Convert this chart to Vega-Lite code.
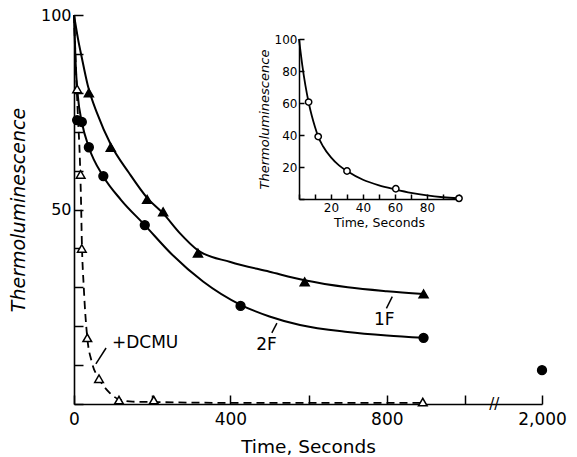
{
  "$schema": "https://vega.github.io/schema/vega-lite/v6.json",
  "width": 468,
  "height": 389,
  "autosize": {"type": "none"},
  "padding": {"left": 74, "top": 15, "right": 35, "bottom": 53},
  "background": "white",
  "config": {
    "view": {"stroke": null},
    "font": "DejaVu Sans",
    "axis": {"domainColor": "black", "tickColor": "black", "labelColor": "black", "titleColor": "black", "grid": false, "domainWidth": 1.6, "tickWidth": 1.5, "titleFontWeight": "normal", "labelOverlap": false, "labelBound": false, "labelFlush": false}
  },
  "datasets": {
    "curves": [
      {"s": "1F", "t": 0, "v": 100}, {"s": "1F", "t": 10, "v": 94}, {"s": "1F", "t": 20, "v": 89}, {"s": "1F", "t": 35, "v": 82}, {"s": "1F", "t": 60, "v": 74.5}, {"s": "1F", "t": 95, "v": 66.5}, {"s": "1F", "t": 140, "v": 59.5}, {"s": "1F", "t": 187, "v": 53}, {"s": "1F", "t": 228, "v": 49}, {"s": "1F", "t": 270, "v": 44}, {"s": "1F", "t": 317, "v": 39.5}, {"s": "1F", "t": 400, "v": 36.5}, {"s": "1F", "t": 500, "v": 34}, {"s": "1F", "t": 590, "v": 31.8}, {"s": "1F", "t": 700, "v": 30}, {"s": "1F", "t": 800, "v": 29}, {"s": "1F", "t": 894, "v": 28.3},
      {"s": "2F", "t": 0, "v": 100}, {"s": "2F", "t": 4, "v": 88}, {"s": "2F", "t": 10, "v": 79}, {"s": "2F", "t": 20, "v": 72.5}, {"s": "2F", "t": 38, "v": 66}, {"s": "2F", "t": 75, "v": 58.5}, {"s": "2F", "t": 120, "v": 52.5}, {"s": "2F", "t": 181, "v": 46}, {"s": "2F", "t": 250, "v": 38.5}, {"s": "2F", "t": 330, "v": 31.5}, {"s": "2F", "t": 426, "v": 25.5}, {"s": "2F", "t": 500, "v": 22.5}, {"s": "2F", "t": 578, "v": 20.3}, {"s": "2F", "t": 700, "v": 18.5}, {"s": "2F", "t": 800, "v": 17.6}, {"s": "2F", "t": 894, "v": 17}
    ],
    "dcmu": [
      {"t": 0, "v": 100}, {"t": 5, "v": 86}, {"t": 10, "v": 74}, {"t": 15, "v": 63}, {"t": 18, "v": 52}, {"t": 20, "v": 42}, {"t": 25, "v": 30}, {"t": 34, "v": 17}, {"t": 45, "v": 11}, {"t": 64, "v": 6.5}, {"t": 90, "v": 3}, {"t": 115, "v": 1.2}, {"t": 150, "v": 0.6}, {"t": 204, "v": 0.5}, {"t": 400, "v": 0.3}, {"t": 892, "v": 0.3}
    ],
    "points": [
      {"s": "1F", "t": 38, "v": 80}, {"s": "1F", "t": 94, "v": 66}, {"s": "1F", "t": 187, "v": 52.6}, {"s": "1F", "t": 228, "v": 49.4}, {"s": "1F", "t": 317, "v": 38.8}, {"s": "1F", "t": 590, "v": 31.4}, {"s": "1F", "t": 894, "v": 28.3},
      {"s": "2F", "t": 8, "v": 73}, {"s": "2F", "t": 20, "v": 72.5}, {"s": "2F", "t": 38, "v": 66}, {"s": "2F", "t": 75, "v": 58.6}, {"s": "2F", "t": 181, "v": 46}, {"s": "2F", "t": 426, "v": 25.2}, {"s": "2F", "t": 894, "v": 17}, {"s": "2F", "t": 2000, "v": 8.7},
      {"s": "DCMU", "t": 8, "v": 81}, {"s": "DCMU", "t": 17, "v": 59}, {"s": "DCMU", "t": 20, "v": 40}, {"s": "DCMU", "t": 34, "v": 17}, {"s": "DCMU", "t": 64, "v": 6.5}, {"s": "DCMU", "t": 115, "v": 1}, {"s": "DCMU", "t": 204, "v": 1}, {"s": "DCMU", "t": 892, "v": 0.5}
    ],
    "labels": [
      {"txt": "1F", "t": 767, "v": 21.5},
      {"txt": "2F", "t": 466, "v": 15.2},
      {"txt": "+DCMU", "t": 97, "v": 15.7}
    ],
    "leaders": [
      {"t": 814, "v": 27.6, "t2": 799, "v2": 24.6},
      {"t": 519, "v": 20.8, "t2": 506, "v2": 18.3},
      {"t": 82, "v": 14.4, "t2": 56, "v2": 10.3}
    ],
    "brk": [{"txt": "//", "t": 1380, "v": 0}],
    "inset_curve": [
      {"t": 0, "v": 100}, {"t": 2, "v": 84}, {"t": 4, "v": 71}, {"t": 6, "v": 60.5}, {"t": 8, "v": 52}, {"t": 10, "v": 45}, {"t": 12, "v": 39}, {"t": 15, "v": 33}, {"t": 20, "v": 26}, {"t": 25, "v": 21}, {"t": 30, "v": 17.5}, {"t": 40, "v": 12}, {"t": 50, "v": 8.5}, {"t": 60, "v": 6}, {"t": 70, "v": 3.8}, {"t": 80, "v": 2.2}, {"t": 90, "v": 1.1}, {"t": 100, "v": 0.4}
    ],
    "inset_pts": [
      {"t": 6, "v": 60.6}, {"t": 12, "v": 39}, {"t": 30, "v": 17.5}, {"t": 60.5, "v": 6.4}, {"t": 100, "v": 0.4}
    ]
  },
  "layer": [
    {
      "data": {"name": "curves"},
      "mark": {"type": "line", "color": "black", "strokeWidth": 2, "interpolate": "monotone"},
      "encoding": {
        "x": {"field": "t", "type": "quantitative", "scale": {"domain": [0, 1000, 2000], "range": [0, 391, 468], "nice": false, "zero": false},
          "axis": {"orient": "bottom", "values": [0, 200, 400, 600, 800, 1000, 2000], "labelExpr": "datum.value == 200 || datum.value == 600 || datum.value == 1000 ? '' : format(datum.value, ',')", "tickSize": -9, "labelPadding": 16, "labelFontSize": 17, "title": "Time, Seconds", "titleFontSize": 18.5, "titlePadding": 10}},
        "y": {"field": "v", "type": "quantitative", "scale": {"domain": [0, 100], "range": [389, 0], "nice": false},
          "axis": {"orient": "left", "values": [0, 10, 20, 30, 40, 50, 60, 70, 80, 90, 100], "labelExpr": "datum.value == 50 || datum.value == 100 ? format(datum.value, 'd') : ''", "tickSize": -9, "labelPadding": 12, "labelFontSize": 16, "title": "Thermoluminescence", "titleFontSize": 19, "titleFontStyle": "italic", "titlePadding": 12}},
        "detail": {"field": "s"}
      }
    },
    {
      "data": {"name": "dcmu"},
      "mark": {"type": "line", "color": "black", "strokeWidth": 1.8, "strokeDash": [8, 5], "interpolate": "monotone"},
      "encoding": {
        "x": {"field": "t", "type": "quantitative", "scale": {"domain": [0, 1000, 2000], "range": [0, 391, 468], "nice": false, "zero": false}, "axis": null},
        "y": {"field": "v", "type": "quantitative", "scale": {"domain": [0, 100], "range": [389, 0], "nice": false}, "axis": null}
      }
    },
    {
      "data": {"name": "points"},
      "mark": {"type": "point", "strokeWidth": 1.5, "opacity": 1},
      "encoding": {
        "x": {"field": "t", "type": "quantitative", "scale": {"domain": [0, 1000, 2000], "range": [0, 391, 468], "nice": false, "zero": false}, "axis": null},
        "y": {"field": "v", "type": "quantitative", "scale": {"domain": [0, 100], "range": [389, 0], "nice": false}, "axis": null},
        "shape": {"field": "s", "type": "nominal", "scale": {"domain": ["1F", "2F", "DCMU"], "range": ["triangle-up", "circle", "triangle-up"]}, "legend": null},
        "fill": {"field": "s", "type": "nominal", "scale": {"domain": ["1F", "2F", "DCMU"], "range": ["black", "black", "white"]}, "legend": null},
        "stroke": {"value": "black"},
        "size": {"field": "s", "type": "nominal", "scale": {"domain": ["1F", "2F", "DCMU"], "range": [80, 75, 45]}, "legend": null}
      }
    },
    {
      "data": {"name": "labels"},
      "mark": {"type": "text", "align": "left", "baseline": "middle", "fontSize": 17, "color": "black"},
      "encoding": {
        "x": {"field": "t", "type": "quantitative", "scale": {"domain": [0, 1000, 2000], "range": [0, 391, 468], "nice": false, "zero": false}, "axis": null},
        "y": {"field": "v", "type": "quantitative", "scale": {"domain": [0, 100], "range": [389, 0], "nice": false}, "axis": null},
        "text": {"field": "txt"}
      }
    },
    {
      "data": {"name": "leaders"},
      "mark": {"type": "rule", "color": "black", "strokeWidth": 1.5},
      "encoding": {
        "x": {"field": "t", "type": "quantitative", "scale": {"domain": [0, 1000, 2000], "range": [0, 391, 468], "nice": false, "zero": false}, "axis": null},
        "y": {"field": "v", "type": "quantitative", "scale": {"domain": [0, 100], "range": [389, 0], "nice": false}, "axis": null},
        "x2": {"field": "t2"},
        "y2": {"field": "v2"}
      }
    },
    {
      "data": {"name": "brk"},
      "mark": {"type": "text", "align": "center", "baseline": "middle", "fontSize": 15, "color": "black"},
      "encoding": {
        "x": {"field": "t", "type": "quantitative", "scale": {"domain": [0, 1000, 2000], "range": [0, 391, 468], "nice": false, "zero": false}, "axis": null},
        "y": {"field": "v", "type": "quantitative", "scale": {"domain": [0, 100], "range": [389, 0], "nice": false}, "axis": null},
        "text": {"field": "txt"}
      }
    },
    {
      "data": {"name": "inset_curve"},
      "mark": {"type": "line", "color": "black", "strokeWidth": 1.8, "interpolate": "monotone"},
      "encoding": {
        "x": {"field": "t", "type": "quantitative", "scale": {"domain": [0, 100], "range": [225, 385], "nice": false, "zero": false},
          "axis": {"orient": "bottom", "offset": -205, "values": [0, 10, 20, 30, 40, 50, 60, 70, 80, 90, 100], "labelExpr": "datum.value >= 20 && datum.value <= 80 && datum.value % 20 == 0 ? datum.label : ''", "tickSize": -5, "labelPadding": 8, "labelFontSize": 12, "title": "Time, Seconds", "titleFontSize": 12.5, "titlePadding": 3, "domainWidth": 1.5}},
        "y": {"field": "v", "type": "quantitative", "scale": {"domain": [0, 100], "range": [184, 24], "nice": false},
          "axis": {"orient": "left", "offset": -225, "values": [0, 20, 40, 60, 80, 100], "labelExpr": "datum.value == 0 ? '' : datum.label", "tickSize": -5, "labelPadding": 7, "labelFontSize": 12, "title": "Thermoluminescence", "titleFontSize": 13, "titleFontStyle": "italic", "titlePadding": 3, "domainWidth": 1.5}}
      }
    },
    {
      "data": {"name": "inset_pts"},
      "mark": {"type": "point", "shape": "circle", "fill": "white", "stroke": "black", "strokeWidth": 1.5, "size": 40, "opacity": 1},
      "encoding": {
        "x": {"field": "t", "type": "quantitative", "scale": {"domain": [0, 100], "range": [225, 385], "nice": false, "zero": false}, "axis": null},
        "y": {"field": "v", "type": "quantitative", "scale": {"domain": [0, 100], "range": [184, 24], "nice": false}, "axis": null}
      }
    }
  ],
  "resolve": {"scale": {"x": "independent", "y": "independent"}, "axis": {"x": "independent", "y": "independent"}}
}
